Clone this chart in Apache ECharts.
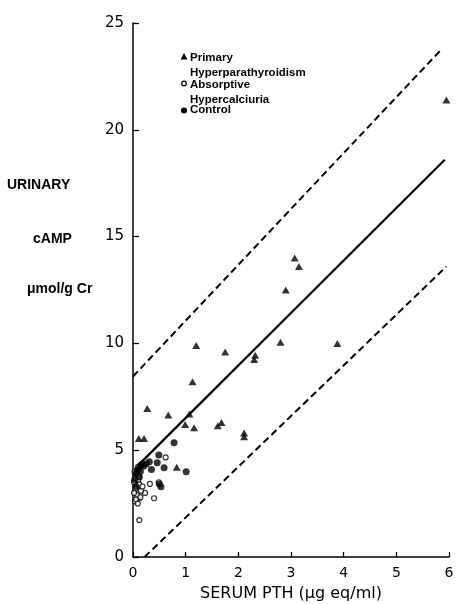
<!DOCTYPE html>
<html>
<head>
<meta charset="utf-8">
<script src="https://cdn.jsdelivr.net/npm/echarts@6/dist/echarts.min.js"></script>
<style>
html,body{margin:0;padding:0;background:#fff;}
#chart{width:456px;height:604px;}
</style>
</head>
<body>
<div id="chart"></div>
<script>
// Tick labels
const xTicks = [0, 1, 2, 3, 4, 5, 6];
const yTicks = [0, 5, 10, 15, 20, 25];

// Primary Hyperparathyroidism (triangles)
const phptX = [5.95, 3.07, 3.15, 2.90, 2.80, 3.88, 2.30, 2.32, 2.11, 2.11, 1.20, 1.75, 1.13, 0.27, 0.67, 1.07, 0.99, 1.16, 1.61, 1.68, 0.11, 0.21, 0.83, 0.10];
const phptY = [21.4, 14.0, 13.6, 12.5, 10.05, 10.0, 9.25, 9.45, 5.8, 5.63, 9.9, 9.6, 8.2, 6.95, 6.65, 6.7, 6.2, 6.05, 6.15, 6.3, 5.55, 5.55, 4.2, 2.8];

// Absorptive Hypercalciuria (open circles)
const ahX = [0.62, 0.32, 0.49, 0.23, 0.40, 0.12, 0.02, 0.05, 0.08, 0.10, 0.04, 0.15, 0.07, 0.12, 0.03, 0.18, 0.06, 0.09, 0.14, 0.02, 0.11];
const ahY = [4.66, 3.42, 3.5, 3.0, 2.75, 1.73, 3.5, 3.2, 2.9, 3.6, 2.6, 3.1, 3.9, 3.4, 4.0, 3.3, 2.7, 2.5, 2.8, 3.0, 3.75];

// Control (filled circles)
const ctlX = [0.78, 0.31, 0.49, 0.46, 0.35, 0.59, 1.01, 0.53, 0.50, 0.15, 0.10, 0.18, 0.05, 0.08, 0.12, 0.03, 0.14, 0.06, 0.20, 0.25];
const ctlY = [5.35, 4.46, 4.77, 4.41, 4.1, 4.18, 3.99, 3.29, 3.42, 4.3, 4.2, 4.35, 3.9, 4.05, 3.75, 3.6, 4.0, 3.3, 4.25, 4.35];

// Regression line and bounds
const regX = [0.10, 5.92];
const regY = [4.3, 18.6];
const upperX = [0.0, 5.87];
const upperY = [8.45, 23.8];
const lowerX = [0.22, 5.95];
const lowerY = [0.0, 13.6];

// Text
const xName = 'SERUM PTH (μg eq/ml)';
const yNameLines = ['URINARY', 'cAMP', 'μmol/g Cr'];
const legendNames = ['Primary\nHyperparathyroidism', 'Absorptive\nHypercalciuria', 'Control'];

const zip = (a, b) => a.map((v, i) => [v, b[i]]);
const font = 'Liberation Sans, Arial, sans-serif';
const wide = 'DejaVu Sans, sans-serif';

const chart = echarts.init(document.getElementById('chart'), null, {renderer: 'canvas'});
chart.setOption({
  backgroundColor: '#fff',
  animation: false,
  grid: {left: 133, right: 7, top: 23, bottom: 47, containLabel: false, outerBoundsMode: 'none'},
  xAxis: {
    type: 'value', min: xTicks[0], max: xTicks[xTicks.length - 1], interval: 1,
    axisLine: {show: true, lineStyle: {color: '#000', width: 1.5}},
    axisTick: {show: true, inside: true, length: 5, lineStyle: {color: '#000', width: 1.3}},
    axisLabel: {color: '#000', fontSize: 14, fontFamily: wide, margin: 9},
    splitLine: {show: false},
    name: xName, nameLocation: 'middle', nameGap: 29,
    nameTextStyle: {color: '#000', fontSize: 16, fontFamily: wide}
  },
  yAxis: {
    type: 'value', min: yTicks[0], max: yTicks[yTicks.length - 1], interval: 5,
    axisLine: {show: true, lineStyle: {color: '#000', width: 1.5}},
    axisTick: {show: true, inside: true, length: 6, lineStyle: {color: '#000', width: 1.3}},
    axisLabel: {color: '#000', fontSize: 15, fontFamily: wide, margin: 9},
    splitLine: {show: false}
  },
  graphic: [
    {type: 'text', left: 7, top: 178, style: {text: yNameLines[0], font: 'bold 14px ' + font, fill: '#000'}},
    {type: 'text', left: 33, top: 232, style: {text: yNameLines[1], font: 'bold 14px ' + font, fill: '#000'}},
    {type: 'text', left: 27, top: 282, style: {text: yNameLines[2], font: 'bold 14px ' + font, fill: '#000'}},
    {type: 'text', left: 190, top: 50, style: {text: legendNames[0], font: 'bold 11.5px ' + font, fill: '#000', lineHeight: 15}},
    {type: 'text', left: 190, top: 77, style: {text: legendNames[1], font: 'bold 11.5px ' + font, fill: '#000', lineHeight: 15}},
    {type: 'text', left: 190, top: 104, style: {text: legendNames[2], font: 'bold 11.5px ' + font, fill: '#000'}},
    {type: 'polygon', shape: {points: [[184, 53], [180.5, 59.5], [187.5, 59.5]]}, style: {fill: '#000'}},
    {type: 'circle', shape: {cx: 184, cy: 83.5, r: 2.3}, style: {fill: '#fff', stroke: '#000', lineWidth: 1.2}},
    {type: 'circle', shape: {cx: 184, cy: 110.5, r: 3}, style: {fill: '#000'}}
  ],
  legend: {show: false},
  series: [
    {name: 'Upper', type: 'line', data: zip(upperX, upperY), symbol: 'none',
     lineStyle: {color: '#000', width: 2, type: [7, 4]}},
    {name: 'Lower', type: 'line', data: zip(lowerX, lowerY), symbol: 'none',
     lineStyle: {color: '#000', width: 2, type: [7, 4]}},
    {name: 'Regression', type: 'line', data: zip(regX, regY), symbol: 'none',
     lineStyle: {color: '#000', width: 2.2}},
    {name: 'Primary Hyperparathyroidism', type: 'scatter', data: zip(phptX, phptY),
     symbol: 'triangle', symbolSize: [8, 7], itemStyle: {color: '#000'}},
    {name: 'Absorptive Hypercalciuria', type: 'scatter', data: zip(ahX, ahY),
     symbol: 'circle', symbolSize: 5, itemStyle: {color: '#fff', borderColor: '#000', borderWidth: 1.2}},
    {name: 'Control', type: 'scatter', data: zip(ctlX, ctlY),
     symbol: 'circle', symbolSize: 7, itemStyle: {color: '#000'}}
  ]
});
</script>
</body>
</html>
